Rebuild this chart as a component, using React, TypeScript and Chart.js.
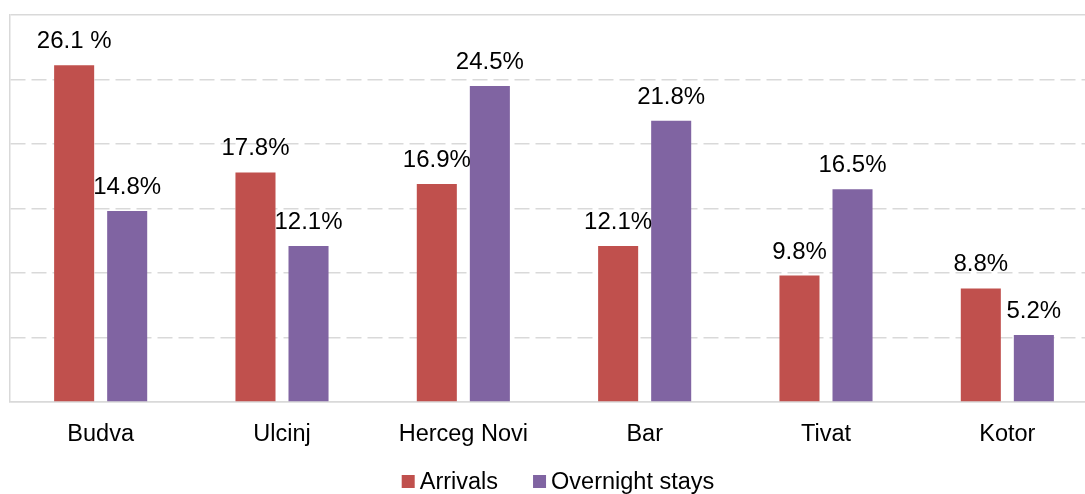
import React, { useEffect, useRef } from "react";
import { Chart, registerables } from "chart.js";

Chart.register(...registerables);

const categories = ["Budva", "Ulcinj", "Herceg Novi", "Bar", "Tivat", "Kotor"];
const arrivals = [26.1, 17.8, 16.9, 12.1, 9.8, 8.8];
const overnightStays = [14.8, 12.1, 24.5, 21.8, 16.5, 5.2];
const arrivalLabels = ["26.1 %", "17.8%", "16.9%", "12.1%", "9.8%", "8.8%"];
const stayLabels = ["14.8%", "12.1%", "24.5%", "21.8%", "16.5%", "5.2%"];
const yTicks = { min: 0, max: 30, step: 5 };

const FONT = '"Liberation Sans", Arial, sans-serif';
const RED = "#C0504D";
const PURPLE = "#8064A2";
const GRID = "#D9D9D9";

export default function App() {
  const ref = useRef<HTMLCanvasElement | null>(null);

  useEffect(() => {
    if (!ref.current) return;
    const labelsPlugin = {
      id: "valueLabels",
      afterDatasetsDraw(chart: any) {
        const ctx = chart.ctx;
        ctx.save();
        ctx.font = `24px ${FONT}`;
        ctx.fillStyle = "#000";
        ctx.textAlign = "center";
        ctx.textBaseline = "alphabetic";
        chart.data.datasets.forEach((ds: any, di: number) => {
          const meta = chart.getDatasetMeta(di);
          meta.data.forEach((el: any, i: number) => {
            ctx.fillText(ds.valueLabels[i], el.x, el.y - 17);
          });
        });
        ctx.restore();
      },
      afterDraw(chart: any) {
        const ctx = chart.ctx;
        ctx.save();
        ctx.font = `23.5px ${FONT}`;
        ctx.textBaseline = "alphabetic";
        ctx.textAlign = "left";
        const box = 13;
        const gapText = 5;
        const gapItem = 35;
        const items = chart.data.datasets.map((ds: any) => ({
          label: ds.label,
          color: ds.backgroundColor,
          w: ctx.measureText(ds.label).width,
        }));
        let total = 0;
        items.forEach((it: any, i: number) => {
          total += box + gapText + it.w + (i < items.length - 1 ? gapItem : 0);
        });
        let x = 558 - total / 2;
        const baseY = 489;
        items.forEach((it: any) => {
          ctx.fillStyle = it.color;
          ctx.fillRect(x, 475, box, box);
          x += box + gapText;
          ctx.fillStyle = "#000";
          ctx.fillText(it.label, x, baseY);
          x += it.w + gapItem;
        });
        ctx.restore();
      },
    };

    const chart = new Chart(ref.current, {
      type: "bar",
      data: {
        labels: categories,
        datasets: [
          {
            label: "Arrivals",
            data: arrivals,
            backgroundColor: RED,
            valueLabels: arrivalLabels,
            categoryPercentage: 0.585,
            barPercentage: 0.755,
          } as any,
          {
            label: "Overnight stays",
            data: overnightStays,
            backgroundColor: PURPLE,
            valueLabels: stayLabels,
            categoryPercentage: 0.585,
            barPercentage: 0.755,
          } as any,
        ],
      },
      options: {
        responsive: false,
        animation: false,
        layout: { padding: { left: 10, top: 15, right: 2, bottom: 0 } },
        plugins: {
          legend: { display: false },
          tooltip: { enabled: false },
        },
        scales: {
          x: {
            grid: { display: false, drawTicks: false },
            border: { display: true, color: GRID, width: 1.5 },
            ticks: {
              color: "#000",
              font: { family: FONT, size: 23.5 },
              padding: 18,
              maxRotation: 0,
              autoSkip: false,
            },
            afterFit: (s: any) => {
              s.height = 92;
            },
          },
          y: {
            min: yTicks.min,
            max: yTicks.max,
            ticks: { display: false, stepSize: yTicks.step },
            grid: { color: GRID, lineWidth: 1.5, drawTicks: false },
            border: {
              display: true,
              color: GRID,
              width: 1.5,
              dash: (c: any) =>
                c.tick && c.tick.value !== yTicks.max && c.tick.value !== yTicks.min ? [15, 6] : [],
            },
            afterFit: (s: any) => {
              s.width = 0;
            },
          },
        },
      },
      plugins: [labelsPlugin],
    });
    return () => chart.destroy();
  }, []);

  return (
    <div
      style={{
        position: "fixed",
        left: 0,
        top: 0,
        width: 1085,
        height: 494,
        overflow: "hidden",
        background: "#fff",
      }}
    >
      <canvas ref={ref} width={1100} height={494} style={{ width: 1100, height: 494 }} />
    </div>
  );
}
